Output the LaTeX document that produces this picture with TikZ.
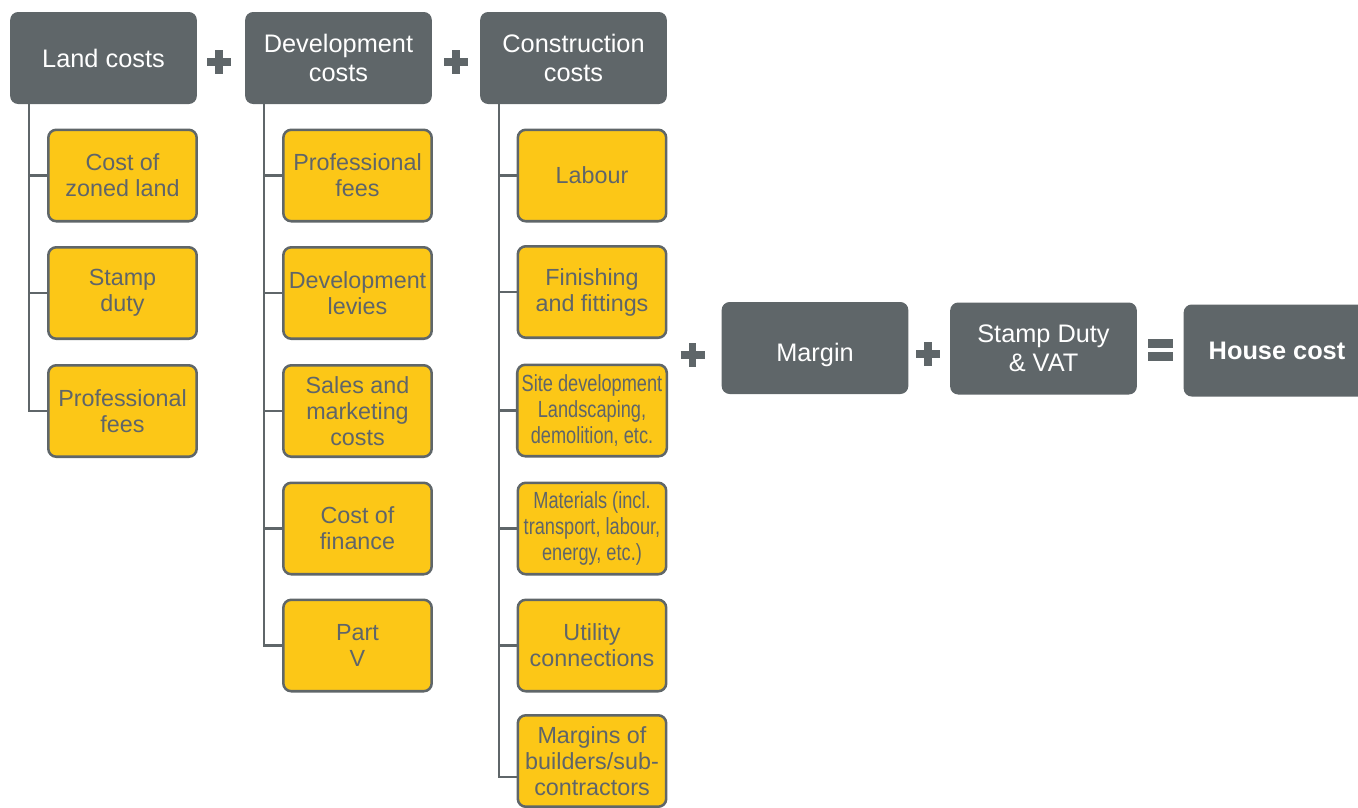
\documentclass[tikz,border=0pt]{standalone}
\usepackage{fontspec}
\setmainfont{Liberation Sans}
\newfontfamily\condfont[FakeStretch=0.78]{Liberation Sans}
\usepackage{xcolor}
\usepackage{tikz}
\definecolor{hdgray}{HTML}{5F6669}
\definecolor{boxyel}{HTML}{FCC717}
\definecolor{txtgray}{HTML}{5F6569}
\tikzset{
    HD/.style ={rectangle, rounded corners=6pt, minimum width=140pt, minimum height=69pt, fill=hdgray, text=white, align=center, font=\fontsize{19}{21.75}\selectfont},
    SB/.style ={rectangle, rounded corners=6pt, minimum width=111.3pt, minimum height=68.6pt, draw=hdgray, line width=1.9pt, fill=boxyel, text=txtgray, align=center, font=\fontsize{17.5}{19.5}\selectfont},
    SC/.style ={SB, font=\condfont\fontsize{17.5}{19.5}\selectfont},
    LN/.style ={draw=hdgray, line width=2.2pt},
    SG/.style ={draw=hdgray, line width=5.6pt}
}

\begin{document}
\begin{tikzpicture}[x=0.75pt, y=-0.75pt]
    \useasboundingbox (0,0) rectangle (1358,807);
    % top row
    \node[HD] (land) at (103.5,58) {Land costs};
    \node[HD] (dev)  at (338.5,58) {Development\\costs};
    \node[HD] (con)  at (573.5,58) {Construction\\costs};
    % land costs
    \node[SB] (lc1) at (122.5,175.5) {Cost of\\zoned land};
    \node[SB] (lc2) at (122.5,293)   {Stamp\\duty};
    \node[SB] (lc3) at (122.5,411)   {Professional\\fees};
    % development costs
    \node[SB] (dc1) at (357.5,175.5) {Professional\\fees};
    \node[SB] (dc2) at (357.5,293)   {Development\\levies};
    \node[SB] (dc3) at (357.5,411)   {Sales and\\marketing\\costs};
    \node[SB] (dc4) at (357.5,528.5) {Cost of\\finance};
    \node[SB] (dc5) at (357.5,645.5) {Part\\V};
    % construction costs
    \node[SB] (cc1) at (592,175.5) {Labour};
    \node[SB] (cc2) at (592,292)   {Finishing\\and fittings};
    \node[SC] (cc3) at (592,410.5) {Site development\\Landscaping,\\demolition, etc.};
    \node[SC] (cc4) at (592,528.5) {Materials (incl.\\transport, labour,\\energy, etc.)};
    \node[SB] (cc5) at (592,645.5) {Utility\\connections};
    \node[SB] (cc6) at (592,761)   {Margins of\\builders/sub-\\contractors};
    % totals
    \node[HD, text height=19.6pt, text depth=0pt] (mrg) at (815,348) {Margin};
    \node[HD] (sdv) at (1043.5,348.5) {Stamp Duty\\\& VAT};
    \node[HD] (hse) at (1277,350.5) {\bfseries House cost};

    % trunks
    \coordinate (l0) at (29,104);
    \coordinate (d0) at (264,104);
    \coordinate (c0) at (499,104);
    \foreach \b in {lc1,lc2,lc3}
        \draw[LN] (l0) |- (\b.west);
    \foreach \b in {dc1,dc2,dc3,dc4,dc5}
        \draw[LN] (d0) |- (\b.west);
    \foreach \b in {cc1,cc2,cc3,cc4,cc5}
        \draw[LN] (c0) |- (\b.west);
    \draw[LN] (c0) |- ([yshift=-12pt]cc6.west);

    % signs
    \coordinate (sp1) at (219,62);
    \coordinate (sp2) at (456,62);
    \coordinate (sp3) at (692.5,355);
    \coordinate (sp4) at (928,354);
    \coordinate (eq1) at (1160.5,350);
    \foreach \s in {sp1,sp2,sp3,sp4}
        \draw[SG] (\s) ++(-12,0) -- ++(24,0) (\s) ++(0,-12) -- ++(0,24);
    \draw[hdgray, line width=6.75pt] (eq1) ++(-12.5,-6.5) -- ++(25,0) (eq1) ++(-12.5,6.5) -- ++(25,0);
\end{tikzpicture}
\end{document}
